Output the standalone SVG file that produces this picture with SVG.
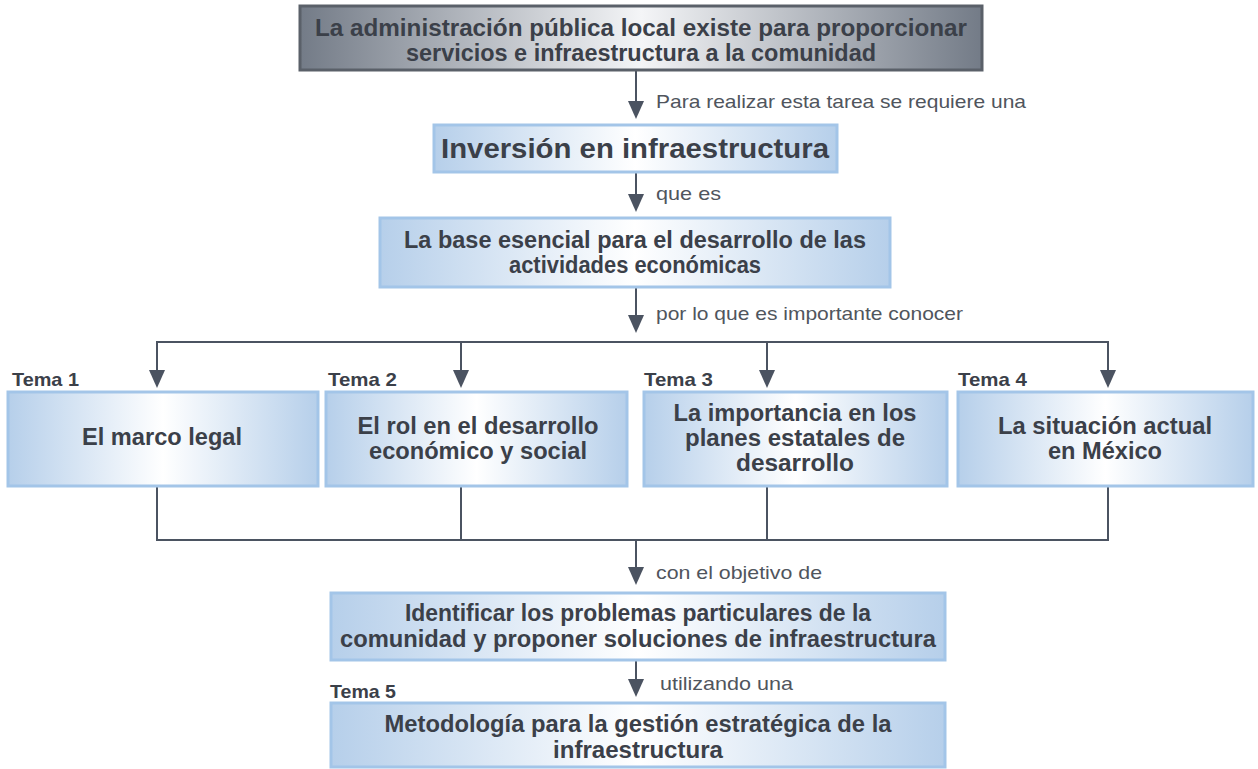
<svg xmlns="http://www.w3.org/2000/svg" width="1258" height="769" viewBox="0 0 1258 769">
<defs>
<linearGradient id="gGray" x1="0" y1="0" x2="1" y2="0">
<stop offset="0" stop-color="#737b87"/>
<stop offset="0.5" stop-color="#f4f5f7"/>
<stop offset="1" stop-color="#737b87"/>
</linearGradient>
<linearGradient id="gBlue" x1="0" y1="0" x2="1" y2="0">
<stop offset="0" stop-color="#b6cfea"/>
<stop offset="0.5" stop-color="#ffffff"/>
<stop offset="1" stop-color="#b6cfea"/>
</linearGradient>
</defs>
<style>
.box{fill:url(#gBlue);stroke:#a3c5e8;stroke-width:3}
.gray{fill:url(#gGray);stroke:#5a6069;stroke-width:3}
.t{font-family:"Liberation Sans",Arial,sans-serif;font-weight:bold;fill:#3b4049;text-anchor:middle;font-size:23px}
.lbl{font-family:"Liberation Sans",Arial,sans-serif;fill:#50555d;font-size:18.5px}
.tema{font-family:"Liberation Sans",Arial,sans-serif;font-weight:bold;fill:#3b4049;font-size:18.5px}
.c{stroke:#4b5361;stroke-width:2;fill:none}
.ah{fill:#4b5361}
</style>
<rect width="1258" height="769" fill="#ffffff"/>

<g id="connectors">
<line class="c" x1="636" y1="71" x2="636" y2="101"/>
<path class="ah" d="M628,101 L644,101 L636,119 Z"/>
<line class="c" x1="636" y1="173" x2="636" y2="194"/>
<path class="ah" d="M628,194 L644,194 L636,212 Z"/>
<line class="c" x1="636" y1="288" x2="636" y2="315"/>
<path class="ah" d="M628,315 L644,315 L636,333 Z"/>
<path class="c" d="M157,370 V342 H1108 V370"/>
<line class="c" x1="461" y1="342" x2="461" y2="370"/>
<line class="c" x1="767" y1="342" x2="767" y2="370"/>
<path class="ah" d="M149,370 L165,370 L157,388 Z"/>
<path class="ah" d="M453,370 L469,370 L461,388 Z"/>
<path class="ah" d="M759,370 L775,370 L767,388 Z"/>
<path class="ah" d="M1100,370 L1116,370 L1108,388 Z"/>
<path class="c" d="M157,487 V540 H1108 V487"/>
<line class="c" x1="461" y1="487" x2="461" y2="540"/>
<line class="c" x1="767" y1="487" x2="767" y2="540"/>
<line class="c" x1="636" y1="540" x2="636" y2="567"/>
<path class="ah" d="M628,567 L644,567 L636,585 Z"/>
<line class="c" x1="636" y1="661" x2="636" y2="679"/>
<path class="ah" d="M628,679 L644,679 L636,697 Z"/>
<text class="lbl" x="656" y="108" textLength="370" lengthAdjust="spacingAndGlyphs">Para realizar esta tarea se requiere una</text>
<text class="lbl" x="656" y="200" textLength="65" lengthAdjust="spacingAndGlyphs">que es</text>
<text class="lbl" x="656" y="320" textLength="307" lengthAdjust="spacingAndGlyphs">por lo que es importante conocer</text>
<text class="lbl" x="656" y="579" textLength="166" lengthAdjust="spacingAndGlyphs">con el objetivo de</text>
<text class="lbl" x="660" y="690" textLength="133" lengthAdjust="spacingAndGlyphs">utilizando una</text>
</g>

<g id="n-top">
<rect class="gray" x="300" y="6" width="682" height="64"/>
<text class="t" x="641" y="36" textLength="652" lengthAdjust="spacingAndGlyphs">La administración pública local existe para proporcionar</text>
<text class="t" x="641" y="61" textLength="470" lengthAdjust="spacingAndGlyphs">servicios e infraestructura a la comunidad</text>
</g>

<g id="n-inversion">
<rect class="box" x="434" y="125" width="403" height="47"/>
<text class="t" x="635" y="158" style="font-size:27px" textLength="388" lengthAdjust="spacingAndGlyphs">Inversión en infraestructura</text>
</g>

<g id="n-base">
<rect class="box" x="380" y="218" width="510" height="69"/>
<text class="t" x="635" y="248" textLength="462" lengthAdjust="spacingAndGlyphs">La base esencial para el desarrollo de las</text>
<text class="t" x="635" y="273" textLength="252" lengthAdjust="spacingAndGlyphs">actividades económicas</text>
</g>

<g id="n-tema1">
<text class="tema" x="12" y="386" textLength="67" lengthAdjust="spacingAndGlyphs">Tema 1</text>
<rect class="box" x="8" y="392" width="310" height="94"/>
<text class="t" x="162" y="445" textLength="160" lengthAdjust="spacingAndGlyphs">El marco legal</text>
</g>

<g id="n-tema2">
<text class="tema" x="328" y="386" textLength="69" lengthAdjust="spacingAndGlyphs">Tema 2</text>
<rect class="box" x="326" y="392" width="301" height="94"/>
<text class="t" x="478" y="434" textLength="241" lengthAdjust="spacingAndGlyphs">El rol en el desarrollo</text>
<text class="t" x="478" y="459" textLength="218" lengthAdjust="spacingAndGlyphs">económico y social</text>
</g>

<g id="n-tema3">
<text class="tema" x="644" y="386" textLength="69" lengthAdjust="spacingAndGlyphs">Tema 3</text>
<rect class="box" x="644" y="392" width="303" height="94"/>
<text class="t" x="795" y="421" textLength="243" lengthAdjust="spacingAndGlyphs">La importancia en los</text>
<text class="t" x="795" y="446" textLength="220" lengthAdjust="spacingAndGlyphs">planes estatales de</text>
<text class="t" x="795" y="471" textLength="118" lengthAdjust="spacingAndGlyphs">desarrollo</text>
</g>

<g id="n-tema4">
<text class="tema" x="958" y="386" textLength="69" lengthAdjust="spacingAndGlyphs">Tema 4</text>
<rect class="box" x="958" y="392" width="295" height="94"/>
<text class="t" x="1105" y="434" textLength="214" lengthAdjust="spacingAndGlyphs">La situación actual</text>
<text class="t" x="1105" y="459" textLength="114" lengthAdjust="spacingAndGlyphs">en México</text>
</g>

<g id="n-identificar">
<rect class="box" x="331" y="593" width="614" height="67"/>
<text class="t" x="638" y="621" textLength="466" lengthAdjust="spacingAndGlyphs">Identificar los problemas particulares de la</text>
<text class="t" x="638" y="647" textLength="596" lengthAdjust="spacingAndGlyphs">comunidad y proponer soluciones de infraestructura</text>
</g>

<g id="n-metodologia">
<text class="tema" x="330" y="698" textLength="66" lengthAdjust="spacingAndGlyphs">Tema 5</text>
<rect class="box" x="331" y="703" width="614" height="64"/>
<text class="t" x="638" y="732" textLength="507" lengthAdjust="spacingAndGlyphs">Metodología para la gestión estratégica de la</text>
<text class="t" x="638" y="758" textLength="170" lengthAdjust="spacingAndGlyphs">infraestructura</text>
</g>
</svg>
